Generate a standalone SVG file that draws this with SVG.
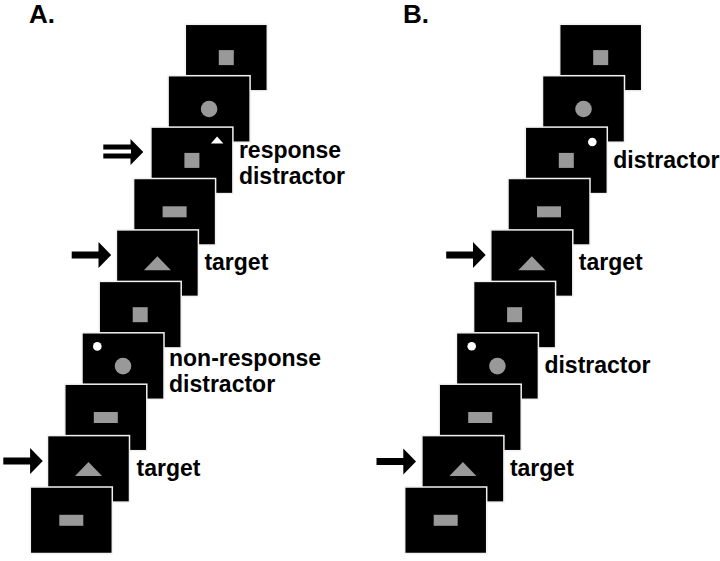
<svg xmlns="http://www.w3.org/2000/svg" width="720" height="561" viewBox="0 0 720 561">
<style>
.scr{fill:#000;stroke:#f2f2f2;stroke-width:1.5}
.g{fill:#999}
.w{fill:#fff}
.lbl{font-family:"Liberation Sans",Arial,sans-serif;font-weight:bold;font-size:23px;fill:#000}
.ttl{font-family:"Liberation Sans",Arial,sans-serif;font-weight:bold;font-size:26px;fill:#000}
.arr{fill:#000}
</style>
<defs>
<rect id="screen" class="scr" x="0" y="0" width="82" height="66.5"/>
<rect id="sq" class="g" x="33.5" y="25.8" width="15" height="15"/>
<circle id="ci" class="g" cx="41" cy="33.3" r="8.3"/>
<rect id="re" class="g" x="29" y="27.8" width="24" height="11"/>
<polygon id="tr" class="g" points="27.5,40.3 54.5,40.3 41,26.3"/>
<polygon id="arrowR" class="arr" points="0,-3.6 26.8,-3.6 26.8,-13 39.5,0 26.8,13 26.8,3.6 0,3.6"/>
</defs>
<text class="ttl" x="29" y="22.7">A.</text>
<text class="ttl" x="403" y="22.7">B.</text>

<g id="panelA">
<g id="a1" transform="translate(185.3,24.3)"><use href="#screen"/><use href="#sq"/></g>
<g id="a2" transform="translate(168.1,75.7)"><use href="#screen"/><use href="#ci"/></g>
<g id="a3" transform="translate(150.9,127.1)"><use href="#screen"/><use href="#sq"/><polygon class="w" points="66.2,9.3 60,16.5 72.5,16.5"/>
<text class="lbl" x="88" y="31.2">response</text><text class="lbl" x="88" y="57.2">distractor</text></g>
<g id="a4" transform="translate(133.6,178.5)"><use href="#screen"/><use href="#re"/></g>
<g id="a5" transform="translate(116.4,229.9)"><use href="#screen"/><use href="#tr"/><text class="lbl" x="88" y="40">target</text></g>
<g id="a6" transform="translate(99.2,281.4)"><use href="#screen"/><use href="#sq"/></g>
<g id="a7" transform="translate(82,332.8)"><use href="#screen"/><circle class="w" cx="15.3" cy="13.6" r="4.3"/><use href="#ci"/>
<text class="lbl" x="87" y="33">non-response</text><text class="lbl" x="87" y="59.5">distractor</text></g>
<g id="a8" transform="translate(64.8,384.2)"><use href="#screen"/><use href="#re"/></g>
<g id="a9" transform="translate(47.5,435.6)"><use href="#screen"/><use href="#tr"/><text class="lbl" x="89" y="40.3">target</text></g>
<g id="a10" transform="translate(30.3,487)"><use href="#screen"/><use href="#re"/></g>
</g>

<g id="panelB">
<g id="b1" transform="translate(559.7,24.3)"><use href="#screen"/><use href="#sq"/></g>
<g id="b2" transform="translate(542.5,75.7)"><use href="#screen"/><use href="#ci"/></g>
<g id="b3" transform="translate(525.3,127.1)"><use href="#screen"/><use href="#sq"/><circle class="w" cx="67" cy="14.9" r="4.3"/>
<text class="lbl" x="88" y="40.5">distractor</text></g>
<g id="b4" transform="translate(508,178.5)"><use href="#screen"/><use href="#re"/></g>
<g id="b5" transform="translate(490.8,229.9)"><use href="#screen"/><use href="#tr"/><text class="lbl" x="88" y="40">target</text></g>
<g id="b6" transform="translate(473.6,281.4)"><use href="#screen"/><use href="#sq"/></g>
<g id="b7" transform="translate(456.4,332.8)"><use href="#screen"/><circle class="w" cx="15.3" cy="13.4" r="4.3"/><use href="#ci"/>
<text class="lbl" x="88" y="40.5">distractor</text></g>
<g id="b8" transform="translate(439.2,384.2)"><use href="#screen"/><use href="#re"/></g>
<g id="b9" transform="translate(421.9,435.6)"><use href="#screen"/><use href="#tr"/><text class="lbl" x="88" y="40.3">target</text></g>
<g id="b10" transform="translate(404.7,487)"><use href="#screen"/><use href="#re"/></g>
</g>

<g id="connectors">
<polygon class="arr" points="103.3,144.5 130.5,144.5 130.5,139 143.3,152 130.5,165 130.5,158.5 103.3,158.5 103.3,153.6 131,153.6 131,149.6 103.3,149.6"/>
<use href="#arrowR" x="71.7" y="255"/>
<use href="#arrowR" x="3.3" y="461"/>
<use href="#arrowR" x="446.2" y="255"/>
<use href="#arrowR" x="376.5" y="461.5"/>
</g>
</svg>
